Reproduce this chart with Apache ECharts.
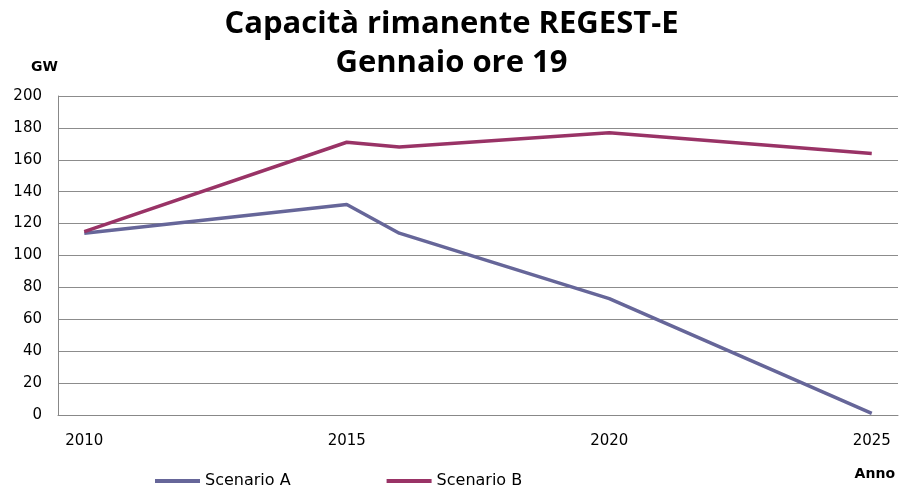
<!DOCTYPE html>
<html>
<head>
<meta charset="utf-8">
<script src="https://cdn.jsdelivr.net/npm/echarts@6/dist/echarts.min.js"></script>
<style>
  html, body { margin: 0; padding: 0; background: #fff; }
  #chart { width: 903px; height: 487px; }
</style>
</head>
<body>
<div id="chart"></div>
<script>
// anni sull'asse x (un punto per anno, solo alcuni hanno un valore)
const years = ["2010", "2011", "2012", "2013", "2014", "2015", "2016", "2017",
  "2018", "2019", "2020", "2021", "2022", "2023", "2024", "2025"];
const shownLabels = ["2010", "2015", "2020", "2025"];
// capacità rimanente in GW
const scenarioA = [114, null, null, null, null, 132, 114, null, null, null, 73, null, null, null, null, 1];
const scenarioB = [115, null, null, null, null, 171, 168, null, null, null, 177, null, null, null, null, 164];
const tickYears = ["2010", "2015", "2020", "2021", "2025"];

const chart = echarts.init(document.getElementById("chart"));
const font = "DejaVu Sans";

const options = {
  animation: false,
  title: [
    {
      text: "Capacità rimanente REGEST-E\nGennaio ore 19",
      left: "center",
      top: 0,
      textStyle: {
        fontFamily: "Open Sans",
        fontWeight: "bold",
        fontSize: 31,
        lineHeight: 39,
        color: "#000",
      },
    },
    {
      text: "Anno",
      right: 3,
      top: 462,
      textStyle: { fontFamily: font, fontWeight: "bold", fontSize: 14, color: "#000" },
    },
  ],
  legend: {
    left: 155,
    top: 473,
    padding: 0,
    icon: "rect",
    itemWidth: 45,
    itemHeight: 4,
    itemGap: 96,
    textStyle: { fontFamily: font, fontSize: 16, color: "#000" },
    data: ["Scenario A", "Scenario B"],
  },
  grid: { left: 58, right: 5, top: 96, bottom: 72 },
  xAxis: {
    type: "category",
    data: years,
    boundaryGap: true,
    axisLine: { lineStyle: { color: "#888", width: 1 } },
    axisTick: {
      length: 5,
      lineStyle: { color: "#888" },
      interval: (i, v) => tickYears.includes(v),
    },
    axisLabel: {
      interval: (i, v) => shownLabels.includes(v),
      margin: 19,
      fontFamily: font,
      fontSize: 15,
      color: "#000",
    },
    splitLine: { show: false },
  },
  yAxis: {
    type: "value",
    min: 0,
    max: 200,
    interval: 20,
    name: "GW",
    nameLocation: "end",
    nameGap: 22,
    nameTextStyle: { fontFamily: font, fontWeight: "bold", fontSize: 14, color: "#000", align: "right" },
    axisLine: { show: true, lineStyle: { color: "#888" } },
    axisTick: { show: false },
    axisLabel: { margin: 16, fontFamily: font, fontSize: 15, color: "#000" },
    splitLine: { lineStyle: { color: "#8c8c8c", width: 1 } },
  },
  series: [
    {
      name: "Scenario A",
      type: "line",
      data: scenarioA,
      connectNulls: true,
      showSymbol: false,
      symbol: "none",
      color: "#666699",
      lineStyle: { width: 3.5, color: "#666699" },
    },
    {
      name: "Scenario B",
      type: "line",
      data: scenarioB,
      connectNulls: true,
      showSymbol: false,
      symbol: "none",
      color: "#993366",
      lineStyle: { width: 3.5, color: "#993366" },
    },
  ],
};
chart.setOption(options);
</script>
</body>
</html>
